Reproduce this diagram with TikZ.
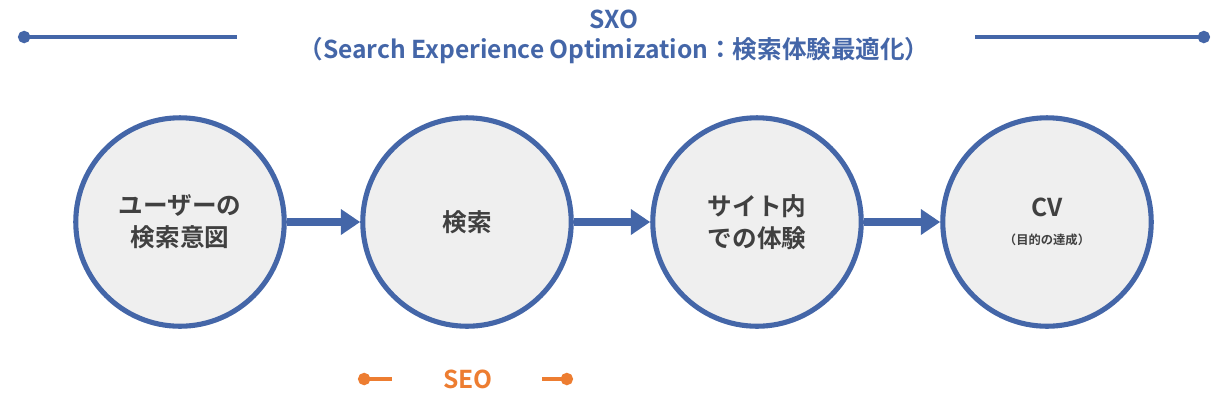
\documentclass[tikz,border=0pt]{standalone}
\usepackage{fontspec}
\setmainfont{Noto Sans CJK JP}[BoldFont={* Bold}]
\usetikzlibrary{arrows.meta}
\definecolor{sxoblue}{HTML}{4466A8}
\definecolor{seoorange}{HTML}{ED7D31}
\definecolor{stepfill}{HTML}{EFEFEF}
\definecolor{steptext}{HTML}{404040}
\tikzset{
  stepcircle/.style={circle, draw=sxoblue, line width=2.9pt, fill=stepfill,
    minimum size=4.17cm, inner sep=0pt, align=center, text=steptext, font=\bfseries\fontsize{14}{18}\selectfont},
  flow/.style={sxoblue, line width=4.5pt, -{Triangle[length=11pt,width=14pt]}},
  span/.style={line width=2pt, {Circle[length=7pt]}-}
}
\begin{document}
\begin{tikzpicture}[x=0.02cm,y=-0.02cm]
  \useasboundingbox (0,0) rectangle (1229,407);

  % SXO header
  \node[text=sxoblue, font=\bfseries\fontsize{14}{17}\selectfont, align=center] (sxo) at (614,37)
    {SXO\\（Search Experience Optimization：検索体験最適化）};
  \coordinate (sxoL) at (18,37);
  \coordinate (sxoLe) at (237,37);
  \coordinate (sxoR) at (1210,37);
  \coordinate (sxoRe) at (975,37);
  \draw[span, sxoblue] (sxoL) -- (sxoLe);
  \draw[span, sxoblue] (sxoR) -- (sxoRe);

  % steps
  \node[stepcircle] (intent) at (180,222) {ユーザーの\\検索意図};
  \node[stepcircle] (search) at (467,222) {検索};
  \node[stepcircle] (site) at (757,222) {サイト内\\での体験};
  \node[stepcircle] (cv) at (1047,222) {CV\\[-2pt]{\fontsize{7}{9}\selectfont （目的の達成）}};

  \draw[flow] (intent) -- (search);
  \draw[flow] (search) -- (site);
  \draw[flow] (site) -- (cv);

  % SEO
  \node[text=seoorange, font=\bfseries\fontsize{14}{17}\selectfont] (seo) at (468,379) {SEO};
  \coordinate (seoL) at (358,379);
  \coordinate (seoLe) at (392,379);
  \coordinate (seoR) at (573,379);
  \coordinate (seoRe) at (542,379);
  \draw[span, seoorange] (seoL) -- (seoLe);
  \draw[span, seoorange] (seoR) -- (seoRe);
\end{tikzpicture}
\end{document}
